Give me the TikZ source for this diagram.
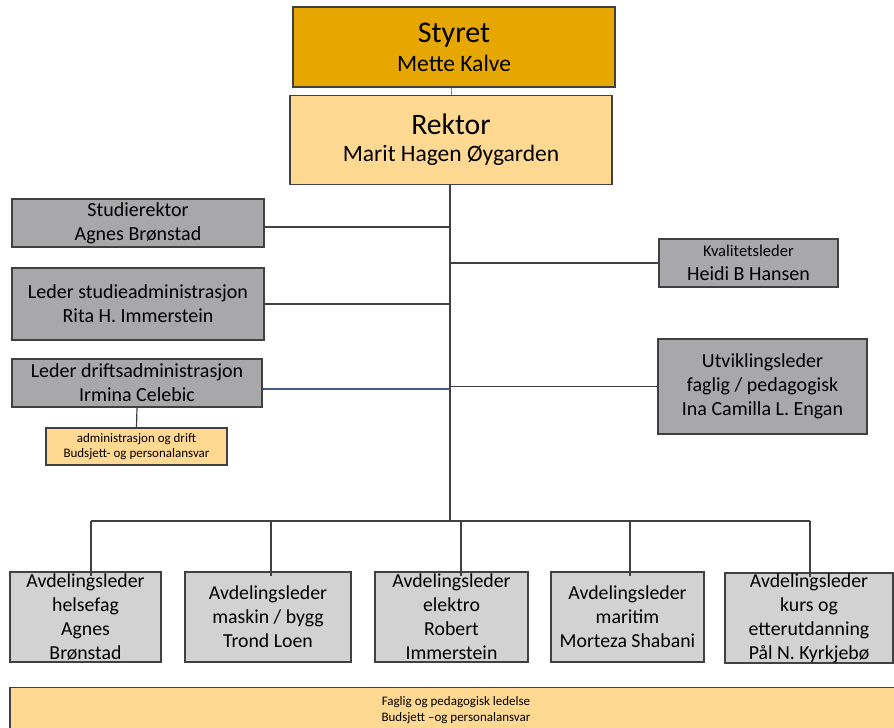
\documentclass[tikz,border=0pt]{standalone}
\usepackage{fontspec}
\setmainfont{Carlito}
\usepackage{tikz}
\usetikzlibrary{positioning}

\definecolor{gold}{RGB}{230,168,0}
\definecolor{sand}{RGB}{255,217,145}
\definecolor{midgray}{RGB}{168,168,171}
\definecolor{lightgray}{RGB}{210,210,210}
\definecolor{rim}{RGB}{64,64,64}
\definecolor{slate}{RGB}{68,92,140}

\begin{document}
\begin{tikzpicture}[x=1pt, y=-1pt,
    box/.style = {draw=rim, line width=1.2pt, align=center, inner sep=0pt},
    head/.style = {box, fill=gold, minimum width=322pt, minimum height=80pt, font=\fontsize{23.5}{29}\selectfont},
    chief/.style = {box, fill=sand, minimum width=322pt, minimum height=89pt, font=\fontsize{23.5}{27}\selectfont},
    staff/.style = {box, fill=midgray, font=\fontsize{20}{24}\selectfont},
    dept/.style = {box, fill=lightgray, minimum height=90pt, font=\fontsize{19.8}{24}\selectfont},
    note/.style = {box, fill=sand, font=\fontsize{13}{15.5}\selectfont},
    link/.style = {draw=rim, line width=1.2pt}]
            \useasboundingbox (0,0) rectangle (894,728);
            % Nodes
            \node[head] (styret) at (454,47) {{\fontsize{30}{29}\selectfont Styret}\\Mette Kalve};
            \node[chief] (rektor) at (451,140) {{\fontsize{29.7}{27}\selectfont Rektor}\\Marit Hagen Øygarden};
            \node[staff, minimum width=252pt, minimum height=48pt] (stud) at (138,223) {Studierektor\\Agnes Brønstad};
            \node[staff, minimum width=252pt, minimum height=72pt] (studadm) at (138,304) {Leder studieadministrasjon\\Rita H. Immerstein};
            \node[staff, minimum width=250pt, minimum height=48pt] (drift) at (137,383) {Leder driftsadministrasjon\\Irmina Celebic};
            \node[note, minimum width=181pt, minimum height=37pt] (budsjett) at (136.5,446.5) {administrasjon og drift\\Budsjett- og personalansvar};
            \node[staff, minimum width=179pt, minimum height=48pt] (kval) at (748.5,263) {{\fontsize{16.5}{21}\selectfont Kvalitetsleder}\\Heidi B Hansen};
            \node[staff, minimum width=209pt, minimum height=95pt] (utv) at (762.5,386.5) {Utviklingsleder\\faglig / pedagogisk\\Ina Camilla L. Engan};
            \node[dept, minimum width=151pt] (helse) at (85.5,617) {Avdelingsleder\\helsefag\\Agnes\\Brønstad};
            \node[dept, minimum width=166pt] (maskin) at (268,617) {Avdelingsleder\\maskin / bygg\\Trond Loen};
            \node[dept, minimum width=153pt] (elektro) at (451.5,617) {Avdelingsleder\\elektro\\Robert\\Immerstein};
            \node[dept, minimum width=153pt] (maritim) at (627.5,617) {Avdelingsleder\\maritim\\Morteza Shabani};
            \node[dept, minimum width=168pt] (kurs) at (809,618) {Avdelingsleder\\kurs og\\etterutdanning\\Pål N. Kyrkjebø};
            \node[note, anchor=north, minimum width=892pt, inner ysep=9pt, font=\fontsize{13}{16}\selectfont] (ledelse) at (456,687) {Faglig og pedagogisk ledelse\\Budsjett –og personalansvar};
            \coordinate (bus) at (450,521);
            % Edges
            \draw[draw=gray, line width=0.6pt] (rektor.north) -- (rektor.north |- styret.south);
            \draw[link] (rektor.south -| bus) -- (bus);
            \draw[link] ([yshift=-4pt]stud.east) -- ([yshift=-4pt]stud.east -| bus);
            \draw[link] (studadm.east) -- (studadm.east -| bus);
            \draw[draw=slate, line width=1.2pt] ([yshift=-6pt]drift.east) -- ([yshift=-6pt]drift.east -| bus);
            \draw[link] (drift.south) -- (budsjett.north);
            \draw[link] (kval.west) -- (kval.west -| bus);
            \draw[link] (utv.west) -- (utv.west -| bus);
            \draw[link] ([xshift=5.5pt]helse.north |- bus) -- ([xshift=1pt]kurs.north |- bus);
            \foreach \d/\s in {helse/5.5, maskin/3, elektro/9.5, maritim/2.5, kurs/1}
                \draw[link] ([xshift=\s pt]\d.north |- bus) -- ([xshift=\s pt, yshift=-5pt]\d.north);
            \end{tikzpicture}
\end{document}
